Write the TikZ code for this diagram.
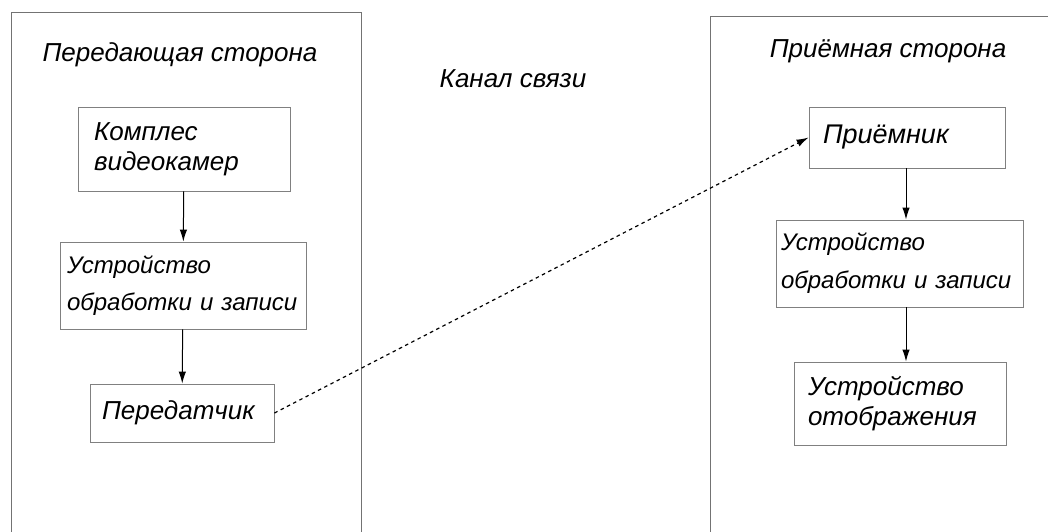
\documentclass[tikz,border=0pt]{standalone}
\usepackage{fontspec}
\setmainfont{Liberation Sans}
\usetikzlibrary{positioning,arrows.meta}

\begin{document}
\begin{tikzpicture}[x=1pt,y=-1pt,
    block/.style={draw=black!50, line width=0.9pt, align=left, minimum height=#1,
        inner ysep=0pt, font=\fontsize{26}{30}\selectfont\itshape},
    block/.default=60pt,
    smalltext/.style={font=\fontsize{24}{29}\selectfont\itshape},
    caption/.style={anchor=base, font=\fontsize{26}{30}\selectfont\itshape},
    link/.style={-{Latex[length=12pt,width=7.5pt]}, line width=1pt},
    radio/.style={link, line width=1.2pt, dash pattern=on 3.5pt off 3.5pt}]
    \useasboundingbox (0,0) rectangle (1048,532);

    % Draw the two sides
    \draw [black!55, line width=0.9pt] (11,532) |- (361,12) -- (361,532);
    \draw [black!55, line width=0.9pt] (710,532) |- (1048,16);
    \node [caption] (txside) at (180,62) {Передающая сторона};
    \node [caption] (rxside) at (888,58) {Приёмная сторона};
    \node [caption] (channel) at (513,88) {Канал связи};

    % Transmitting side
    \node [block=84pt, text width=180pt, inner xsep=16pt] (cams) at (184,149)
        {Комплес\\видеокамер};
    \node [block=87pt, smalltext, text width=232pt, inner xsep=7pt] (proc1) at (183,285.5)
        {Устройство\\[8pt]обработки и записи};
    \node [block=58pt, text width=160pt, inner xsep=12pt] (tx) at (182,413)
        {Передатчик};

    % Receiving side
    \node [block=61pt, text width=168pt, inner xsep=14pt, font=\fontsize{27}{30}\selectfont\itshape]
        (rx) at (907,137.5) {Приёмник};
    \node [block=87pt, smalltext, text width=237pt, inner xsep=5pt] (proc2) at (899.5,263.5)
        {Устройство\\[9pt]обработки и записи};
    \node [block=83pt, text width=184pt, inner xsep=14pt] (disp) at (900,403.5)
        {Устройство\\отображения};

    % Arrows
    \draw [link] (cams) -- (proc1);
    \draw [link] (proc1) -- (tx);
    \draw [link] (rx.south -| 906,0) -- (proc2.north -| 906,0);
    \draw [link] (proc2.south -| 906,0) -- (disp.north -| 906,0);
    \draw [radio] (tx.east) -- (rx.west);
\end{tikzpicture}
\end{document}
